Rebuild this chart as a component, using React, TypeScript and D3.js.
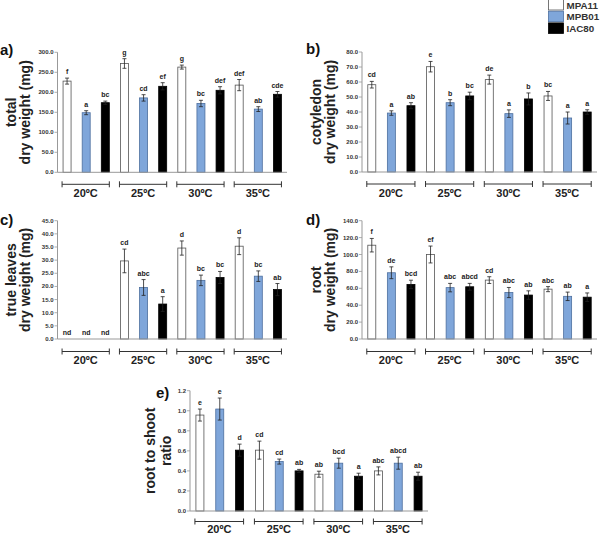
import React from "react";
import * as d3 from "d3";

const groups = ["20ºC", "25ºC", "30ºC", "35ºC"];
const cultivars = ["MPA11", "MPB01", "IAC80"];

const totalMean = [228, 149, 174, 272, 186, 215, 263, 172, 205, 218, 158, 195];
const totalErr = [7.5, 5, 4, 12, 8, 9, 5, 8, 9, 14, 6, 7];
const totalLetters = ["f", "a", "bc", "g", "cd", "ef", "g", "bc", "def", "def", "ab", "cde"];
const totalTicks = [0, 50, 100, 150, 200, 250, 300];

const cotyMean = [58.2, 39.3, 44.2, 70.2, 46.2, 50.7, 61.6, 38.9, 48.7, 50.7, 36, 40];
const cotyErr = [2.2, 1.5, 2, 3.5, 2, 2.5, 3, 2.5, 4, 3, 4, 1.5];
const cotyLetters = ["cd", "a", "ab", "e", "b", "bc", "de", "a", "b", "bc", "a", "a"];
const cotyTicks = [0, 10, 20, 30, 40, 50, 60, 70, 80];

const leavesMean = [null, null, null, 29.7, 19.6, 13.3, 34.6, 22.3, 23.4, 35.3, 23.9, 18.8];
const leavesErr = [0, 0, 0, 4.5, 3, 2.8, 2.7, 2, 2.3, 3.2, 2, 2.3];
const leavesLetters = ["nd", "nd", "nd", "cd", "abc", "a", "d", "bc", "bc", "d", "bc", "ab"];
const leavesTicks = [0, 5, 10, 15, 20, 25, 30, 35, 40, 45];

const rootMean = [111, 78.4, 64.6, 100, 60.8, 61.8, 69.7, 55, 52, 59, 50.5, 49.5];
const rootErr = [8, 7, 5, 10, 5, 4, 4, 6, 5, 3, 5, 5];
const rootLetters = ["f", "de", "bcd", "ef", "abc", "abcd", "cd", "abc", "ab", "abc", "ab", "a"];
const rootTicks = [0, 20, 40, 60, 80, 100, 120, 140];

const ratioMean = [0.957, 1.017, 0.607, 0.607, 0.493, 0.4, 0.367, 0.477, 0.347, 0.4, 0.477, 0.347];
const ratioErr = [0.06, 0.11, 0.06, 0.09, 0.025, 0.015, 0.03, 0.05, 0.03, 0.04, 0.06, 0.04];
const ratioLetters = ["e", "e", "d", "cd", "cd", "ab", "ab", "bcd", "a", "abc", "abcd", "ab"];
const ratioTicks = [0, 0.2, 0.4, 0.6, 0.8, 1.0, 1.2];

const FONT = "'Liberation Sans', Arial, Helvetica, sans-serif";
const FILLS = ["#ffffff", "#7fa6da", "#000000"];
const STROKES = ["#555555", "#4d6f9f", "#000000"];

const panels = [
  { tag: "a)", title: ["total", "dry weight (mg)"], mean: totalMean, err: totalErr, letters: totalLetters, ticks: totalTicks,
    x0: 57.5, x1: 287, yTop: 52.3, yBot: 172.3, tagX: 0, tagY: 55, t1: 16, t2: 29.5, bOff: 12, lOff: 25 },
  { tag: "b)", title: ["cotyledon", "dry weight (mg)"], mean: cotyMean, err: cotyErr, letters: cotyLetters, ticks: cotyTicks,
    x0: 362, x1: 597, yTop: 52, yBot: 172, tagX: 306, tagY: 54, t1: 321, t2: 334.5, bOff: 12, lOff: 25 },
  { tag: "c)", title: ["true leaves", "dry weight (mg)"], mean: leavesMean, err: leavesErr, letters: leavesLetters, ticks: leavesTicks,
    x0: 57.5, x1: 287, yTop: 220.7, yBot: 339, tagX: 0, tagY: 225, t1: 16, t2: 29.5, bOff: 12.5, lOff: 25 },
  { tag: "d)", title: ["root", "dry weight (mg)"], mean: rootMean, err: rootErr, letters: rootLetters, ticks: rootTicks,
    x0: 362, x1: 597, yTop: 220.7, yBot: 339, tagX: 306, tagY: 225, t1: 321, t2: 334.5, bOff: 12.5, lOff: 25 },
  { tag: "e)", title: ["root to shoot", "ratio"], mean: ratioMean, err: ratioErr, letters: ratioLetters, ticks: ratioTicks,
    x0: 190, x1: 428, yTop: 390.7, yBot: 511, tagX: 156, tagY: 398, t1: 155, t2: 171, bOff: 10.5, lOff: 21.5 },
];

function Panel({ p }: { p: any }) {
  const max = p.ticks[p.ticks.length - 1];
  const y = d3.scaleLinear().domain([0, max]).range([p.yBot, p.yTop]);
  const idx = d3.range(p.mean.length);
  const x = d3.scaleBand<number>().domain(idx).range([p.x0, p.x1]).padding(0);
  const cx = (i: number) => (x(i) as number) + x.bandwidth() / 2;
  const bw = 8;
  const fmt = d3.format(".1f");
  const midY = (p.yTop + p.yBot) / 2;
  return (
    <g>
      <text x={p.tagX} y={p.tagY} fontSize={15} fontWeight="bold" fill="#111">{p.tag}</text>
      <text transform={`translate(${p.t1},${midY}) rotate(-90)`} textAnchor="middle" fontSize={14} fontWeight="bold" fill="#222">{p.title[0]}</text>
      <text transform={`translate(${p.t2},${midY}) rotate(-90)`} textAnchor="middle" fontSize={14} fontWeight="bold" fill="#222">{p.title[1]}</text>
      {p.ticks.map((t: number) => (
        <g key={t}>
          <line x1={p.x0 - 3} x2={p.x0} y1={y(t)} y2={y(t)} stroke="#999" strokeWidth={0.8} />
          <text x={p.x0 - 4} y={y(t) + 2} textAnchor="end" fontSize={6} fontWeight="bold" fill="#333">{fmt(t)}</text>
        </g>
      ))}
      {idx.map((i: number) => {
        const v = p.mean[i];
        const c = i % 3;
        if (v == null) {
          return (
            <text key={i} x={cx(i)} y={y(0) - 4} textAnchor="middle" fontSize={7} fontWeight="bold" fill="#222">{p.letters[i]}</text>
          );
        }
        const e = p.err[i];
        const top = y(v + e);
        return (
          <g key={i}>
            <rect x={cx(i) - bw / 2} y={y(v)} width={bw} height={y(0) - y(v)} fill={FILLS[c]} stroke={STROKES[c]} strokeWidth={0.8} />
            <line x1={cx(i)} x2={cx(i)} y1={y(v - e)} y2={top} stroke="#222" strokeWidth={0.8} />
            <line x1={cx(i) - 2} x2={cx(i) + 2} y1={top} y2={top} stroke="#222" strokeWidth={0.8} />
            <line x1={cx(i) - 2} x2={cx(i) + 2} y1={y(v - e)} y2={y(v - e)} stroke="#222" strokeWidth={0.8} />
            <text x={cx(i)} y={top - 4} textAnchor="middle" fontSize={7} fontWeight="bold" fill="#222">{p.letters[i]}</text>
          </g>
        );
      })}
      <line x1={p.x0} x2={p.x0} y1={p.yTop} y2={p.yBot} stroke="#999" strokeWidth={1} />
      <line x1={p.x0} x2={p.x1} y1={p.yBot} y2={p.yBot} stroke="#999" strokeWidth={1} />
      {groups.map((g, gi) => {
        const l = cx(gi * 3) - 5;
        const r = cx(gi * 3 + 2) + 4;
        const by = p.yBot + p.bOff;
        return (
          <g key={g}>
            <line x1={l} x2={r} y1={by} y2={by} stroke="#333" strokeWidth={1} />
            <line x1={l} x2={l} y1={by - 3} y2={by + 3} stroke="#333" strokeWidth={1} />
            <line x1={r} x2={r} y1={by - 3} y2={by + 3} stroke="#333" strokeWidth={1} />
            <text x={(l + r) / 2} y={p.yBot + p.lOff} textAnchor="middle" fontSize={11} fontWeight="bold" fill="#222">{g}</text>
          </g>
        );
      })}
    </g>
  );
}

export default function App() {
  return (
    <svg width={600} height={534} style={{ position: "absolute", left: 0, top: 0, background: "#fff" }} fontFamily={FONT}>
      <rect x={0} y={0} width={600} height={534} fill="#fff" />
      {panels.map((p) => <Panel key={p.tag} p={p} />)}
      {cultivars.map((c, i) => (
        <g key={c}>
          <rect x={548.5} y={-0.5 + i * 11.7} width={15} height={10.5} fill={FILLS[i]} stroke={STROKES[i]} strokeWidth={0.8} />
          <text x={566.5} y={8.5 + i * 11.7} fontSize={9.8} fontWeight="bold" fill="#333">{c}</text>
        </g>
      ))}
    </svg>
  );
}
